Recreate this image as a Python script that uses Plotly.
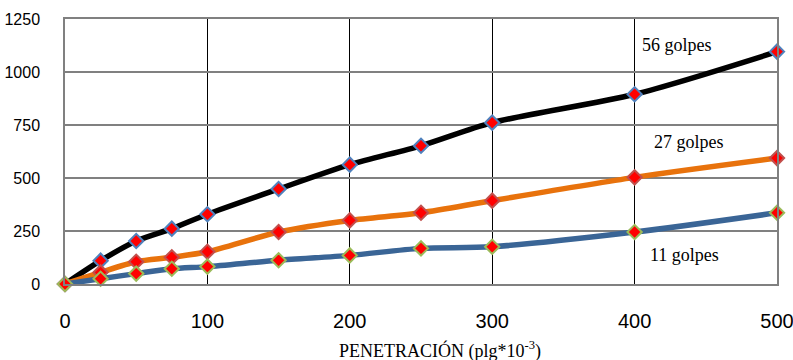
import plotly.graph_objects as go

# Penetration (plg*10^-3) and load readings for each compaction energy
penetracion = [0, 25, 50, 75, 100, 150, 200, 250, 300, 400, 500]
golpes_56 = [0, 110, 203, 261, 329, 448, 563, 652, 761, 895, 1096]
golpes_27 = [0, 55, 105, 126, 152, 245, 300, 336, 393, 503, 594]
golpes_11 = [0, 25, 49, 72, 82, 112, 135, 168, 176, 245, 336]

x_ticks = [0, 100, 200, 300, 400, 500]
y_ticks = [0, 250, 500, 750, 1000, 1250]

series = [
    ("56 golpes", golpes_56, "#000000", "#4F81BD"),
    ("27 golpes", golpes_27, "#E8720C", "#C0504D"),
    ("11 golpes", golpes_11, "#3A6596", "#9BBB59"),
]

fig = go.Figure()
for name, vals, line_col, edge_col in series:
    fig.add_trace(go.Scatter(
        x=penetracion, y=vals, name=name, mode="lines+markers",
        line=dict(color=line_col, width=5.5, shape="spline", smoothing=0.8),
        marker=dict(symbol="diamond", size=11, color="#FF0000",
                    line=dict(color=edge_col, width=2)),
        cliponaxis=False,
    ))

# Series labels placed inside the plot
labels = [("56 golpes", 430, 1127), ("27 golpes", 438, 670), ("11 golpes", 435, 137)]
for text, lx, ly in labels:
    fig.add_annotation(x=lx, y=ly, text=text, showarrow=False,
                       font=dict(family="Liberation Serif", size=18, color="#000000"))

fig.add_annotation(x=0.527, y=-0.248, xref="paper", yref="paper",
                   xanchor="center", yanchor="middle",
                   text="PENETRACIÓN (plg*10<sup>-3</sup>)", showarrow=False,
                   font=dict(family="Liberation Serif", size=18, color="#000000"))

fig.update_layout(
    width=793, height=360,
    margin=dict(l=65, r=16, t=19, b=76),
    paper_bgcolor="white", plot_bgcolor="white",
    showlegend=False,
    xaxis=dict(range=[0, 500], tickvals=x_ticks, showgrid=True,
               gridcolor="#000000", gridwidth=1, zeroline=False,
               showline=True, linecolor="#808080", linewidth=1.5, mirror=True,
               ticks="", ticklabelstandoff=18, automargin=False,
               ticklabeloverflow="allow",
               tickfont=dict(family="Liberation Sans", size=20, color="#000000")),
    yaxis=dict(range=[0, 1250], tickvals=y_ticks, showgrid=True,
               gridcolor="#808080", gridwidth=1.5, zeroline=False,
               showline=True, linecolor="#808080", linewidth=1.5, mirror=True,
               ticks="", ticklabelstandoff=20, automargin=False,
               ticklabeloverflow="allow",
               tickfont=dict(family="Liberation Sans", size=16, color="#000000")),
)

fig.write_html("out.html")
